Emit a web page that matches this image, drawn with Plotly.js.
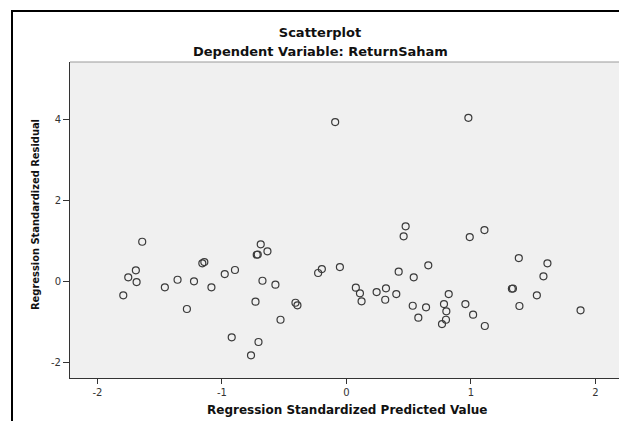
<!DOCTYPE html>
<html>
<head>
<meta charset="utf-8">
<script src="https://cdn.plot.ly/plotly-3.0.1.min.js"></script>
<style>
  html, body { margin: 0; padding: 0; background: #ffffff; overflow: hidden; width: 619px; height: 421px; }
  #frame { position: absolute; left: 11px; top: 10px; width: 700px; height: 500px;
           border-left: 2px solid #000; border-top: 2px solid #000; z-index: 2; pointer-events: none; }
  #chart { position: absolute; left: 0; top: 0; width: 640px; height: 421px; }
</style>
</head>
<body>
<div id="chart"></div>
<div id="frame"></div>
<script>
// Regression Standardized Predicted Value
const predicted = [
  -1.640, -1.691, -1.752, -1.685, -1.792, -1.458, -1.356, -1.224, -1.084, -1.281,
  -1.157, -1.141, -0.977, -0.895, -0.921, -0.688, -0.720, -0.712, -0.634, -0.674,
  -0.570, -0.730, -0.409, -0.393, -0.529, -0.706, -0.766, -0.227, -0.197, -0.052,
   0.076,  0.109,  0.122,  0.243,  0.318,  0.312,  0.401,  0.420,  0.541,  0.658,
   0.533,  0.640,  0.578,  0.476,  0.460, -0.090,  0.980,  1.109,  0.991,  1.385,
   1.615,  1.583,  1.329,  1.338,  1.530,  1.390,  1.881,  0.822,  0.784,  0.803,
   0.800,  0.768,  0.956,  1.018,  1.112
];
// Regression Standardized Residual
const residual = [
   0.970,  0.264,  0.091, -0.025, -0.353, -0.156,  0.032, -0.007, -0.156, -0.691,
   0.437,  0.469,  0.173,  0.272, -1.390,  0.906,  0.649,  0.655,  0.733,  0.007,
  -0.091, -0.511, -0.536, -0.600, -0.956, -1.506, -1.835,  0.198,  0.296,  0.346,
  -0.165, -0.304, -0.501, -0.272, -0.180, -0.462, -0.321,  0.230,  0.091,  0.388,
  -0.610, -0.649, -0.906,  1.351,  1.104,  3.926,  4.032,  1.259,  1.086,  0.568,
   0.437,  0.116, -0.190, -0.185, -0.353, -0.617, -0.723, -0.321, -0.568, -0.748,
  -0.956, -1.062, -0.568, -0.832, -1.111
];
const xTicks = [-2, -1, 0, 1, 2];
const xTickLabels = ['-2', '-1', '0', '1', '2'];
const yTicks = [-2, 0, 2, 4];
const yTickLabels = ['-2', '0', '2', '4'];

const trace = {
  type: 'scatter',
  mode: 'markers',
  x: predicted,
  y: residual,
  marker: { symbol: 'circle-open', size: 7, color: '#3a3a3a', line: { width: 1.2, color: '#3a3a3a' } },
  hoverinfo: 'skip'
};

const titleFont = { family: 'DejaVu Sans, Verdana, sans-serif', size: 13, color: '#111' };

const layout = {
  width: 640,
  height: 421,
  margin: { l: 70, r: 16, t: 62, b: 43, pad: 0 },
  paper_bgcolor: '#ffffff',
  plot_bgcolor: '#f0f0f0',
  showlegend: false,
  title: {
    text: '<b>Scatterplot</b>',
    font: titleFont,
    x: 0.5, xanchor: 'center',
    y: 1 - 32 / 421, yanchor: 'middle', yref: 'container'
  },
  xaxis: {
    range: [-2.22, 2.23],
    tickvals: xTicks, ticktext: xTickLabels,
    ticks: 'outside', ticklen: 5, tickwidth: 1, tickcolor: '#333',
    showgrid: false, zeroline: false,
    showline: true, linecolor: '#333', linewidth: 1,
    tickfont: { family: 'DejaVu Sans, sans-serif', size: 10, color: '#333' },
    automargin: false
  },
  yaxis: {
    range: [-2.395, 5.41],
    tickvals: yTicks, ticktext: yTickLabels,
    ticks: 'outside', ticklen: 6, tickwidth: 1, tickcolor: '#333',
    showgrid: false, zeroline: false,
    showline: true, linecolor: '#333', linewidth: 1,
    tickfont: { family: 'DejaVu Sans, sans-serif', size: 10, color: '#333' },
    automargin: false
  },
  shapes: [
    { type: 'line', xref: 'paper', yref: 'paper', x0: 0, x1: 1, y0: 1, y1: 1,
      line: { color: '#9a9a9a', width: 1 } }
  ],
  annotations: [
    { text: '<b>Dependent Variable: ReturnSaham</b>', showarrow: false,
      xref: 'paper', yref: 'paper',
      x: (320 - 70) / 554, xanchor: 'center',
      y: 1 + (62 - 51) / 316, yanchor: 'middle',
      font: titleFont },
    { text: '<b>Regression Standardized Predicted Value</b>', showarrow: false,
      xref: 'paper', yref: 'paper',
      x: (347 - 70) / 554, xanchor: 'center',
      y: -(410 - 378) / 316, yanchor: 'middle',
      font: { family: 'DejaVu Sans, Verdana, sans-serif', size: 12, color: '#111' } },
    { text: '<b>Regression Standardized Residual</b>', showarrow: false,
      xref: 'paper', yref: 'paper', textangle: -90,
      x: (35 - 70) / 554, xanchor: 'center',
      y: (378 - 215) / 316, yanchor: 'middle',
      font: { family: 'DejaVu Sans Condensed, DejaVu Sans, sans-serif', size: 11, color: '#111' } }
  ]
};

Plotly.newPlot('chart', [trace], layout, { staticPlot: true, displayModeBar: false });
</script>
</body>
</html>
